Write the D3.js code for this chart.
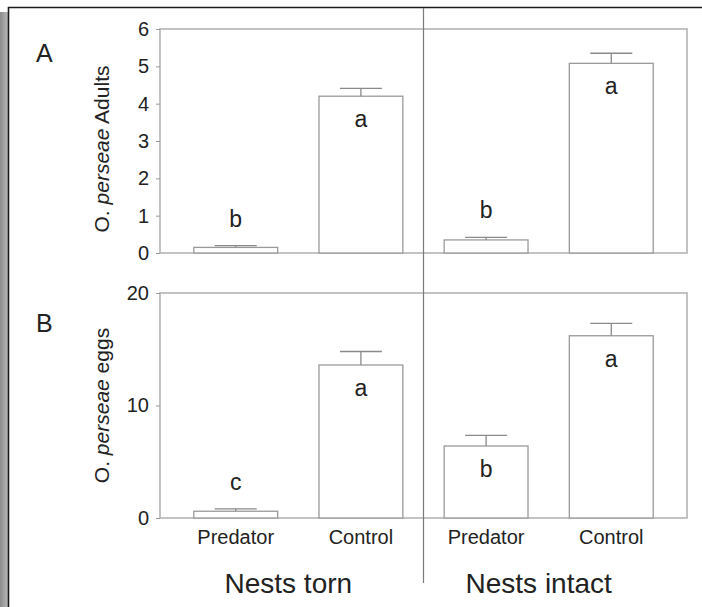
<!DOCTYPE html>
<html>
<head>
<meta charset="utf-8">
<script src="https://cdn.jsdelivr.net/npm/d3@7"></script>
<style>
  body { margin: 0; background: #fff; }
  svg { display: block; }
  text { font-family: "Liberation Sans", Arial, sans-serif; fill: #222; }
</style>
</head>
<body>
<div id="graph"></div>
<script>
//Chart values
const treatments = ["Predator", "Control", "Predator", "Control"];
const nestGroups = ["Nests torn", "Nests intact"];
const adults = [0.15, 4.2, 0.35, 5.08];
const adultsErr = [0.05, 0.21, 0.07, 0.27];
const adultsLetters = ["b", "a", "b", "a"];
const eggs = [0.6, 13.6, 6.4, 16.2];
const eggsErr = [0.22, 1.2, 0.95, 1.1];
const eggsLetters = ["c", "a", "b", "a"];
const adultsTicks = [0, 1, 2, 3, 4, 5, 6];
const eggsTicks = [0, 10, 20];

//Display specifications
const width = 702, height = 607;
const plotLeft = 160, plotRight = 687;

const svg = d3.select("#graph")
    .append("svg")
    .attr("width", width)
    .attr("height", height);

//Page edge with shadow on the left
const grad = svg.append("defs").append("linearGradient")
    .attr("id", "shade").attr("x1", 0).attr("x2", 1);
grad.append("stop").attr("offset", 0).attr("stop-color", "#8c8c8c");
grad.append("stop").attr("offset", 1).attr("stop-color", "#b8b8b8");
svg.append("rect").attr("x", 0).attr("y", 12).attr("width", 8).attr("height", height - 12)
    .attr("fill", "url(#shade)");
svg.append("path")
    .attr("d", "M8.5," + height + "V7.5H" + width)
    .attr("fill", "none").attr("stroke", "#1a1a1a").attr("stroke-width", 1.6);

//Shared x scale
const x = d3.scaleBand()
    .domain(d3.range(treatments.length))
    .range([plotLeft, plotRight])
    .paddingInner(0.33)
    .paddingOuter(0.27);

function drawPanel(opt) {
  const y = d3.scaleLinear().domain([0, opt.max]).range([opt.bottom, opt.top]);
  const g = svg.append("g");

  //Frame
  g.append("rect")
      .attr("x", plotLeft).attr("y", opt.top)
      .attr("width", plotRight - plotLeft).attr("height", opt.bottom - opt.top)
      .attr("fill", "none").attr("stroke", "#b4b4b4").attr("stroke-width", 1.6);

  //Y axis
  const axis = g.append("g")
      .attr("transform", "translate(" + plotLeft + ",0)")
      .call(d3.axisLeft(y).tickValues(opt.ticks).tickSize(4).tickPadding(7).tickFormat(d3.format("d")));
  axis.select(".domain").remove();
  axis.selectAll(".tick line").attr("stroke", "#999");
  axis.selectAll(".tick text")
      .attr("fill", "#222")
      .style("font-size", "20px");

  //Bars
  g.selectAll(".bar")
      .data(opt.values)
      .enter()
      .append("rect")
      .attr("class", "bar")
      .attr("x", (d, i) => x(i))
      .attr("y", d => y(d))
      .attr("width", x.bandwidth())
      .attr("height", d => y(0) - y(d))
      .attr("fill", "#fff")
      .attr("stroke", "#9a9a9a")
      .attr("stroke-width", 1.3);

  //Error bars
  const err = g.selectAll(".err")
      .data(opt.values)
      .enter()
      .append("g")
      .attr("class", "err")
      .attr("stroke", "#8a8a8a")
      .attr("stroke-width", 1.3);
  err.append("line")
      .attr("x1", (d, i) => x(i) + x.bandwidth() / 2)
      .attr("x2", (d, i) => x(i) + x.bandwidth() / 2)
      .attr("y1", d => y(d))
      .attr("y2", (d, i) => y(d + opt.errs[i]));
  err.append("line")
      .attr("x1", (d, i) => x(i) + x.bandwidth() / 2 - 21)
      .attr("x2", (d, i) => x(i) + x.bandwidth() / 2 + 21)
      .attr("y1", (d, i) => y(d + opt.errs[i]))
      .attr("y2", (d, i) => y(d + opt.errs[i]));

  //Significance letters
  g.selectAll(".letter")
      .data(opt.values)
      .enter()
      .append("text")
      .attr("class", "letter")
      .attr("x", (d, i) => x(i) + x.bandwidth() / 2)
      .attr("y", (d, i) => (y(0) - y(d) > 40) ? y(d) + 31 : y(d + opt.errs[i]) - 19)
      .attr("text-anchor", "middle")
      .style("font-size", "23px")
      .text((d, i) => opt.letters[i]);

  //Panel label
  g.append("text")
      .attr("x", 36).attr("y", opt.top + opt.labelDy)
      .style("font-size", "25px")
      .text(opt.label);

  //Y label
  const yl = g.append("text")
      .attr("transform", "rotate(-90)")
      .attr("x", -((opt.top + opt.bottom) / 2 + opt.titleShift))
      .attr("y", 109)
      .attr("text-anchor", "middle")
      .style("font-size", "21px");
  yl.append("tspan").text("O. ");
  yl.append("tspan").style("font-style", "italic").text("perseae");
  yl.append("tspan").text(" " + opt.title);

  return y;
}

drawPanel({top: 29, bottom: 253, max: 6, ticks: adultsTicks, values: adults, errs: adultsErr,
           letters: adultsLetters, label: "A", labelDy: 33, title: "Adults", titleShift: 8});
const yB = drawPanel({top: 293, bottom: 518, max: 20, ticks: eggsTicks, values: eggs, errs: eggsErr,
           letters: eggsLetters, label: "B", labelDy: 39, title: "eggs", titleShift: 0});

//Divider between nest groups
const divX = (x(1) + x.bandwidth() + x(2)) / 2;
svg.append("line")
    .attr("x1", divX).attr("x2", divX)
    .attr("y1", 8).attr("y2", 583)
    .attr("stroke", "#7a7a7a").attr("stroke-width", 1.2);

//Treatment labels
svg.selectAll(".cat")
    .data(treatments)
    .enter()
    .append("text")
    .attr("class", "cat")
    .attr("x", (d, i) => x(i) + x.bandwidth() / 2)
    .attr("y", yB(0) + 26)
    .attr("text-anchor", "middle")
    .style("font-size", "20px")
    .text(d => d);

//Nest group labels
svg.selectAll(".grp")
    .data(nestGroups)
    .enter()
    .append("text")
    .attr("class", "grp")
    .attr("x", (d, i) => (x(2 * i) + x(2 * i + 1) + x.bandwidth()) / 2 - 10)
    .attr("y", yB(0) + 75)
    .attr("text-anchor", "middle")
    .style("font-size", "28px")
    .text(d => d);
</script>
</body>
</html>
